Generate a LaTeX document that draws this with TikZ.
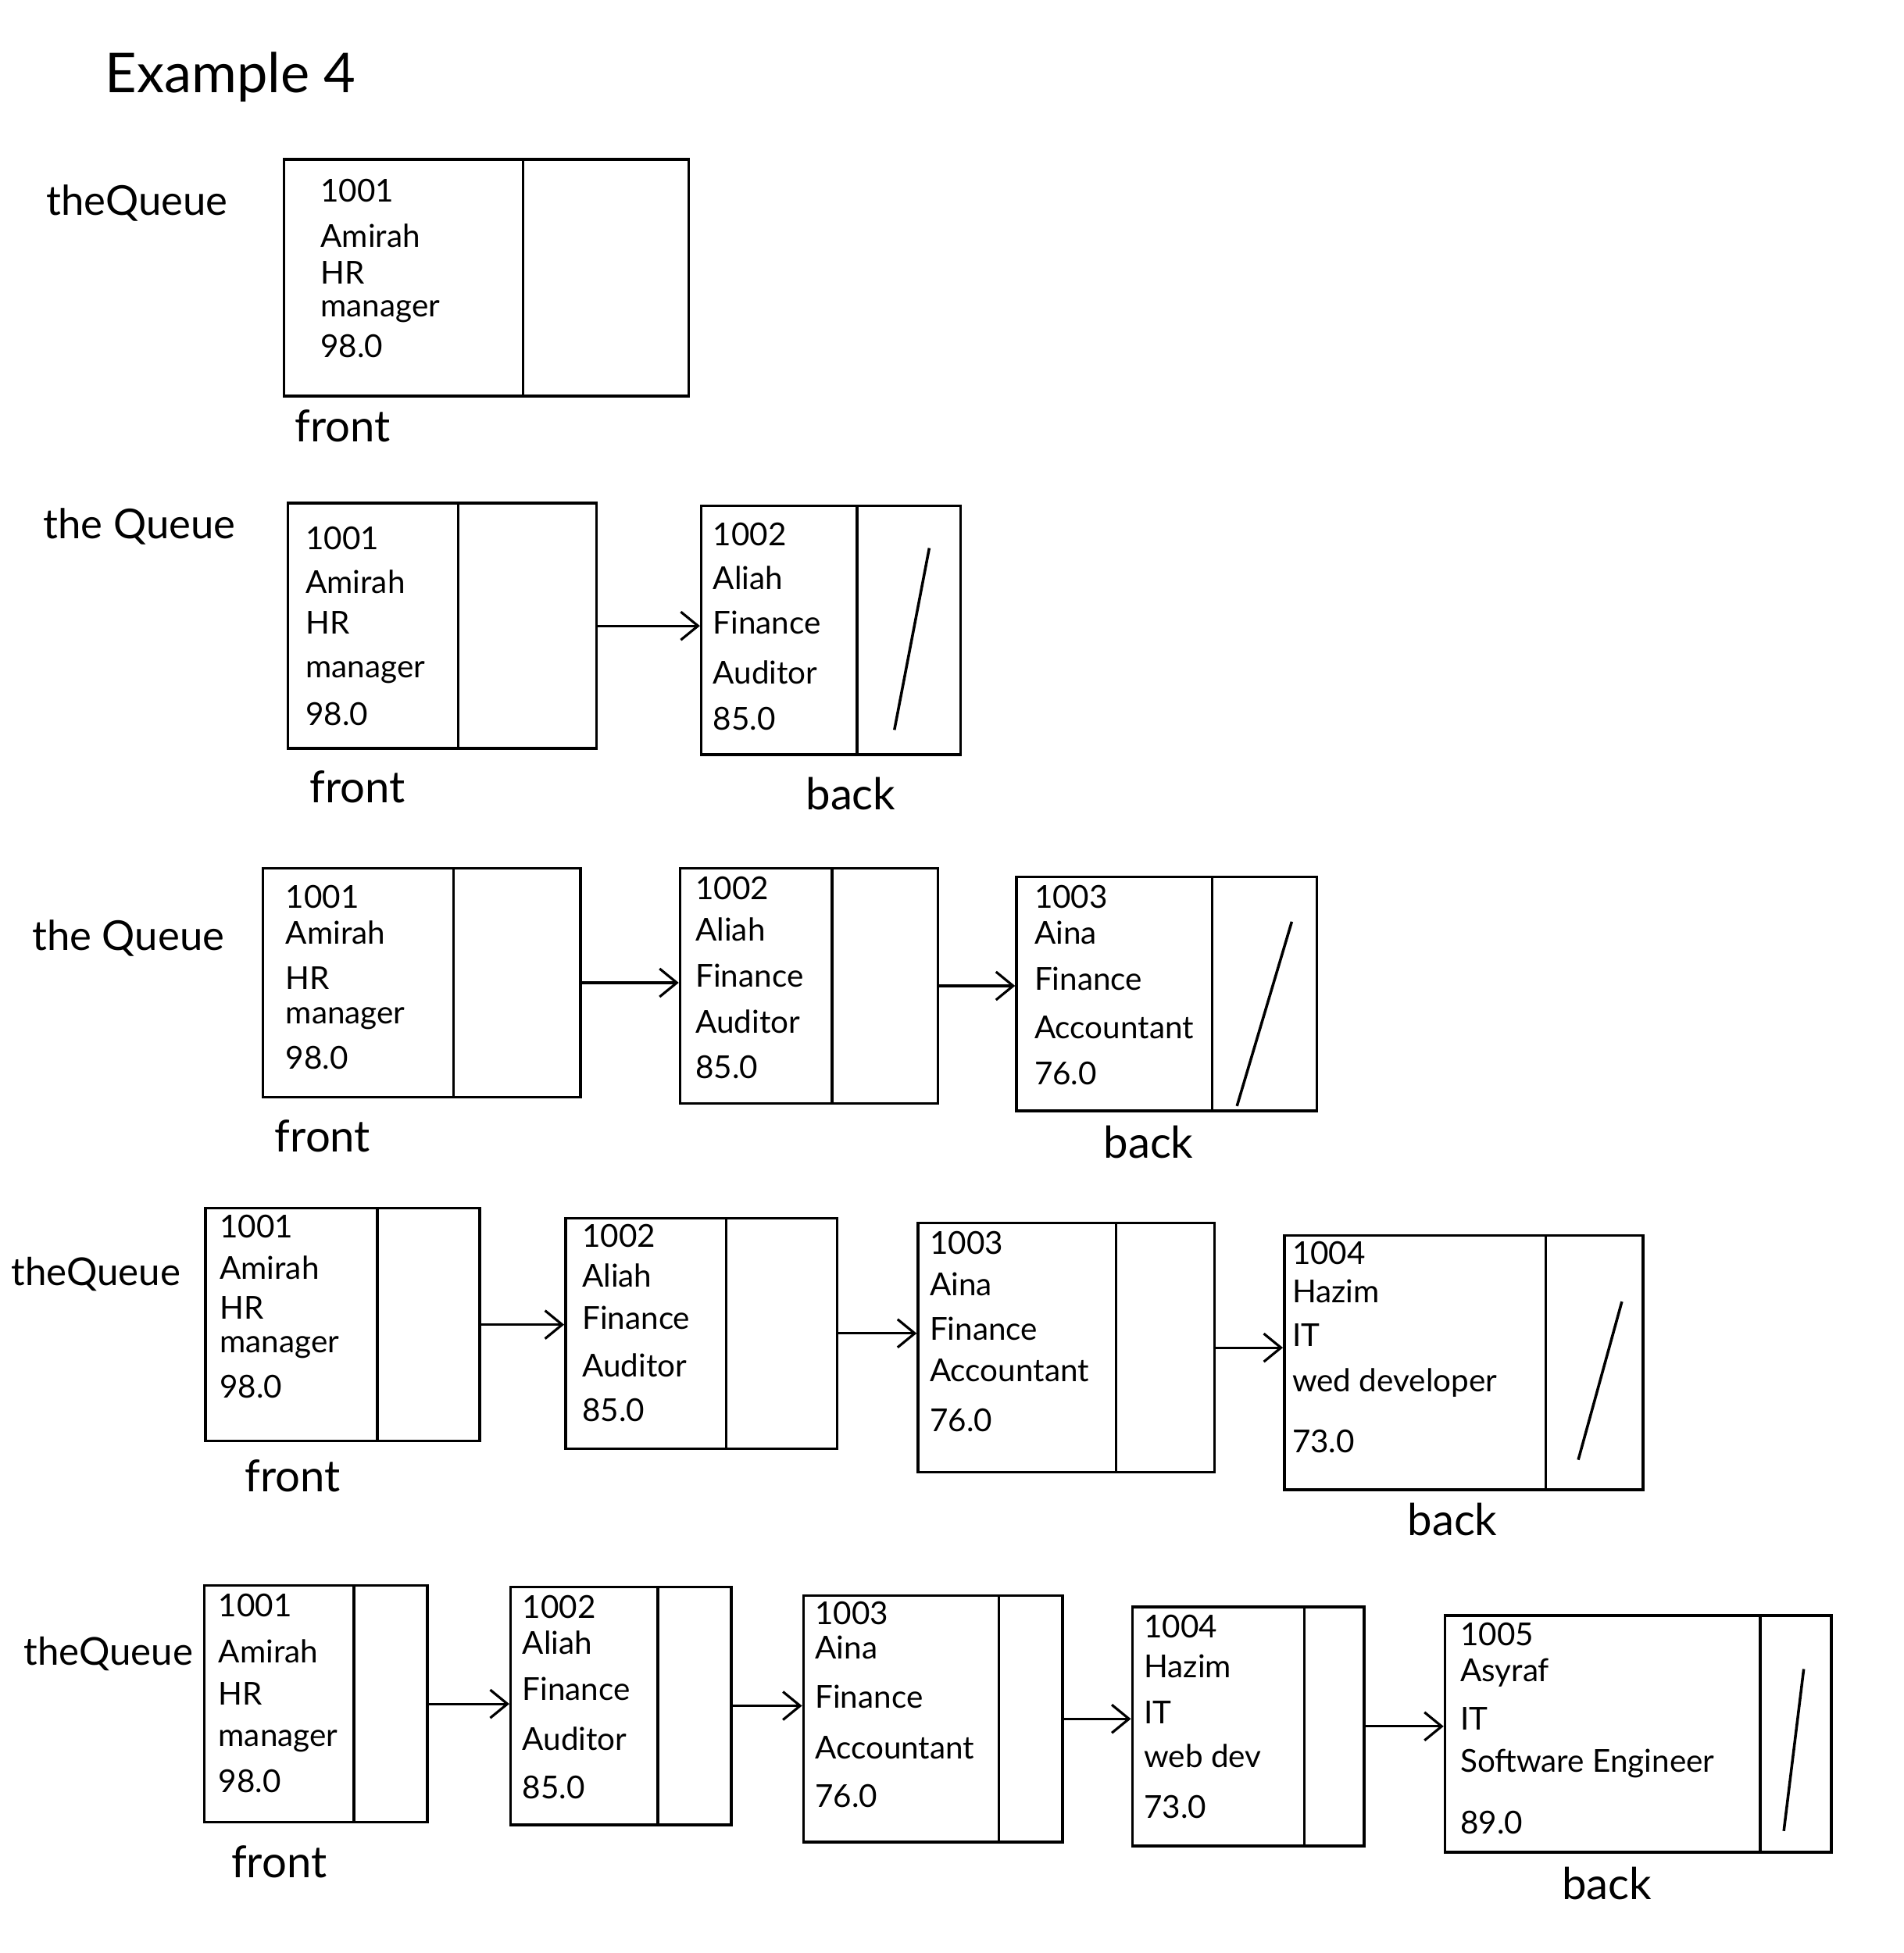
\documentclass[tikz,border=0pt]{standalone}
\usepackage{fontspec}
\setmainfont{Lato}
\usetikzlibrary{fit,arrows.meta}
\tikzset{
  cell/.style={draw, line width=1pt, inner sep=0pt},
  txt/.style={anchor=west, inner sep=0pt, font=\fontsize{11.5}{14}\selectfont},
  lbl/.style={inner sep=0pt, font=\fontsize{16}{18}\selectfont},
  qlbl/.style={inner sep=0pt, font=\fontsize{15}{18}\selectfont},
  ptr/.style={-{Straight Barb[length=2.2mm,width=3.6mm]}, line width=0.9pt},
  nul/.style={line width=1pt},
}
\begin{document}
\begin{tikzpicture}[x=0.015942cm, y=-0.015942cm]
\useasboundingbox (0,0) rectangle (1528,1568);

% title
\node[inner sep=0pt, font=\fontsize{20}{24}\selectfont] (title) at (185,62) {Example 4};

% ---------------- Row 1
\node[qlbl] (q1) at (110,163) {theQueue};
\node[cell, fit={(228,128)(420,318)}] (r1a) {};
\node[cell, fit={(420,128)(553,318)}] (r1ap) {};
\foreach \n/\yy/\s in {1/153/1001, 2/189/Amirah, 3/219/HR, 4/250/manager, 5/278/98.0}
  \node[txt] (r1at\n) at (257,\yy) {\s};
\node[lbl] (f1) at (275,342) {front};

% ---------------- Row 2
\node[qlbl] (q2) at (112,423) {the Queue};
\node[cell, fit={(231,404)(368,601)}] (r2a) {};
\node[cell, fit={(368,404)(479,601)}] (r2ap) {};
\foreach \n/\yy/\s in {1/432/1001, 2/467/Amirah, 3/500/HR, 4/540/manager, 5/573/98.0}
  \node[txt] (r2at\n) at (245,\yy) {\s};
\node[cell, fit={(563,406)(688,606)}] (r2b) {};
\node[cell, fit={(688,406)(771,606)}] (r2bp) {};
\foreach \n/\yy/\s in {1/429/1002, 2/464/Aliah, 3/500/Finance, 4/540/Auditor, 5/577/85.0}
  \node[txt] (r2bt\n) at (572,\yy) {\s};
\draw[nul] (746,440) -- (718,586);
\draw[ptr] (r2ap.east) -- (r2ap.east -| r2b.west);
\node[lbl] (f2) at (287,632) {front};
\node[lbl] (b2) at (683,637) {back};

% ---------------- Row 3
\node[qlbl] (q3) at (103,753) {the Queue};
\node[cell, fit={(211,697)(364,881)}] (r3a) {};
\node[cell, fit={(364,697)(466,881)}] (r3ap) {};
\foreach \n/\yy/\s in {1/720/1001, 2/749/Amirah, 3/785/HR, 4/818/manager, 5/849/98.0}
  \node[txt] (r3at\n) at (229,\yy) {\s};
\node[cell, fit={(546,697)(668,886)}] (r3b) {};
\node[cell, fit={(668,697)(753,886)}] (r3bp) {};
\foreach \n/\yy/\s in {1/713/1002, 2/746/Aliah, 3/783/Finance, 4/820/Auditor, 5/857/85.0}
  \node[txt] (r3bt\n) at (558,\yy) {\s};
\node[cell, fit={(816,704)(973,892)}] (r3c) {};
\node[cell, fit={(973,704)(1057,892)}] (r3cp) {};
\foreach \n/\yy/\s in {1/720/1003, 2/749/Aina, 3/786/Finance, 4/825/Accountant, 5/862/76.0}
  \node[txt] (r3ct\n) at (830,\yy) {\s};
\draw[nul] (1037,740) -- (993,888);
\draw[ptr] (r3ap.east) -- (r3ap.east -| r3b.west);
\draw[ptr] (r3bp.east) -- (r3bp.east -| r3c.west);
\node[lbl] (f3) at (259,912) {front};
\node[lbl] (b3) at (922,917) {back};

% ---------------- Row 4
\node[qlbl, font=\fontsize{14}{16}\selectfont] (q4) at (77,1023) {theQueue};
\node[cell, fit={(165,970)(303,1157)}] (r4a) {};
\node[cell, fit={(303,970)(385,1157)}] (r4ap) {};
\foreach \n/\yy/\s in {1/985/1001, 2/1018/Amirah, 3/1050/HR, 4/1082/manager, 5/1113/98.0}
  \node[txt] (r4at\n) at (176,\yy) {\s};
\node[cell, fit={(454,978)(583,1163)}] (r4b) {};
\node[cell, fit={(583,978)(672,1163)}] (r4bp) {};
\foreach \n/\yy/\s in {1/992/1002, 2/1024/Aliah, 3/1058/Finance, 4/1096/Auditor, 5/1132/85.0}
  \node[txt] (r4bt\n) at (467,\yy) {\s};
\node[cell, fit={(737,982)(896,1182)}] (r4c) {};
\node[cell, fit={(896,982)(975,1182)}] (r4cp) {};
\foreach \n/\yy/\s in {1/998/1003, 2/1031/Aina, 3/1067/Finance, 4/1100/Accountant, 5/1140/76.0}
  \node[txt] (r4ct\n) at (746,\yy) {\s};
\node[cell, fit={(1031,992)(1241,1196)}] (r4d) {};
\node[cell, fit={(1241,992)(1319,1196)}] (r4dp) {};
\foreach \n/\yy/\s in {1/1006/1004, 2/1037/Hazim, 3/1072/IT, 4/1110/wed developer, 5/1157/73.0}
  \node[txt] (r4dt\n) at (1037,\yy) {\s};
\draw[nul] (1302,1045) -- (1267,1172);
\draw[ptr] (r4ap.east) -- (r4ap.east -| r4b.west);
\draw[ptr] (r4bp.east) -- (r4bp.east -| r4c.west);
\draw[ptr] (r4cp.east) -- (r4cp.east -| r4d.west);
\node[lbl] (f4) at (235,1185) {front};
\node[lbl] (b4) at (1166,1220) {back};

% ---------------- Row 5
\node[qlbl, font=\fontsize{14}{16}\selectfont] (q5) at (87,1328) {theQueue};
\node[cell, fit={(164,1273)(284,1463)}] (r5a) {};
\node[cell, fit={(284,1273)(343,1463)}] (r5ap) {};
\foreach \n/\yy/\s in {1/1289/1001, 2/1326/Amirah, 3/1360/HR, 4/1398/manager, 5/1430/98.0}
  \node[txt] (r5at\n) at (175,\yy) {\s};
\node[cell, fit={(410,1274)(528,1465)}] (r5b) {};
\node[cell, fit={(528,1274)(587,1465)}] (r5bp) {};
\foreach \n/\yy/\s in {1/1290/1002, 2/1319/Aliah, 3/1356/Finance, 4/1396/Auditor, 5/1435/85.0}
  \node[txt] (r5bt\n) at (419,\yy) {\s};
\node[cell, fit={(645,1281)(802,1479)}] (r5c) {};
\node[cell, fit={(802,1281)(853,1479)}] (r5cp) {};
\foreach \n/\yy/\s in {1/1295/1003, 2/1323/Aina, 3/1362/Finance, 4/1403/Accountant, 5/1442/76.0}
  \node[txt] (r5ct\n) at (654,\yy) {\s};
\node[cell, fit={(909,1290)(1047,1482)}] (r5d) {};
\node[cell, fit={(1047,1290)(1095,1482)}] (r5dp) {};
\foreach \n/\yy/\s in {1/1306/1004, 2/1338/Hazim, 3/1375/IT, 4/1410/web dev, 5/1451/73.0}
  \node[txt] (r5dt\n) at (918,\yy) {\s};
\node[cell, fit={(1160,1297)(1413,1487)}] (r5e) {};
\node[cell, fit={(1413,1297)(1470,1487)}] (r5ep) {};
\foreach \n/\yy/\s in {1/1312/1005, 2/1343/Asyraf, 3/1380/IT, 4/1416/Software Engineer, 5/1463/89.0}
  \node[txt] (r5et\n) at (1172,\yy) {\s};
\draw[nul] (1448,1340) -- (1432,1470);
\draw[ptr] (r5ap.east) -- (r5ap.east -| r5b.west);
\draw[ptr] (r5bp.east) -- (r5bp.east -| r5c.west);
\draw[ptr] (r5cp.east) -- (r5cp.east -| r5d.west);
\draw[ptr] (r5dp.east) -- (r5dp.east -| r5e.west);
\node[lbl] (f5) at (224,1495) {front};
\node[lbl] (b5) at (1290,1512) {back};
\end{tikzpicture}
\end{document}
